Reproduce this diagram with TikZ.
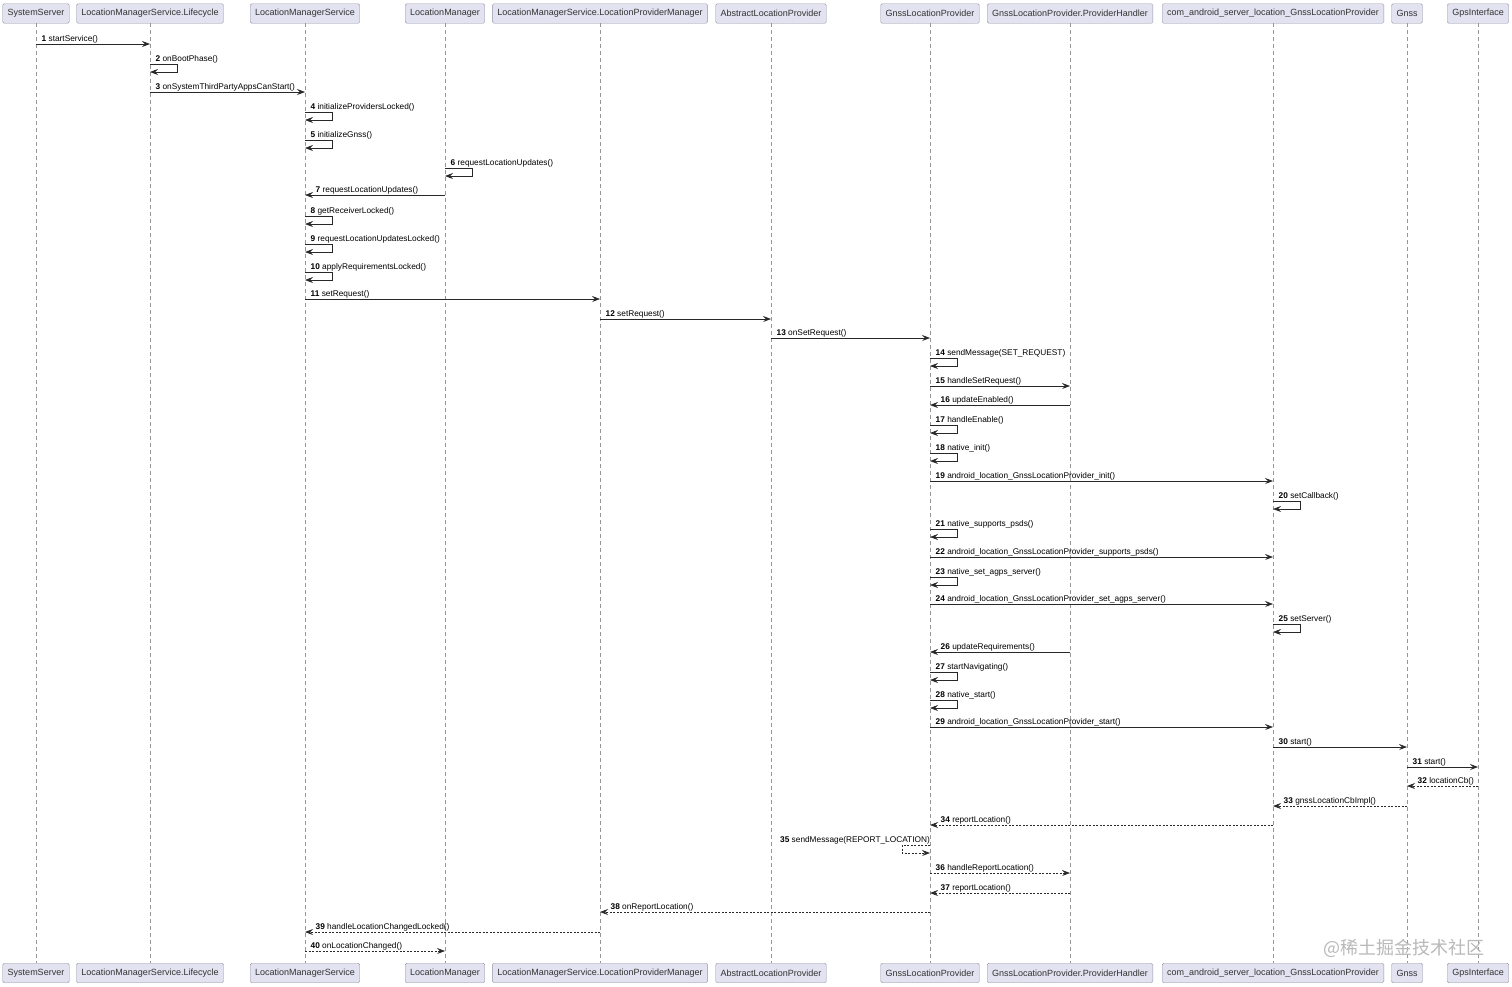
\documentclass[tikz,border=0pt]{standalone}
\usepackage{fontspec}
\setmainfont{Liberation Sans}
\newfontfamily\cjkfont{Noto Sans CJK SC}
\usetikzlibrary{arrows.meta,calc}
\definecolor{partfill}{RGB}{226,226,240}
\definecolor{partline}{RGB}{150,150,165}
\definecolor{lifegray}{RGB}{150,150,150}
\definecolor{msgdark}{RGB}{40,40,40}

\begin{document}
\begin{tikzpicture}[
  x=1pt, y=-1pt,
  every node/.style={font=\fontsize{8.3}{10}\selectfont},
  part/.style={draw=partline, fill=partfill, rounded corners=1.5pt, minimum height=19.5pt, inner xsep=5pt, text=black!80, font=\fontsize{9}{11}\selectfont},
  life/.style={draw=lifegray, dash pattern=on 4pt off 3pt, thin},
  call/.style={draw=msgdark, -{Stealth[length=8pt,width=6pt,inset=3pt]}, line width=0.7pt},
  ret/.style={call, dash pattern=on 2pt off 1.5pt},
  lbl/.style={anchor=base west, inner sep=0pt}
]
  \useasboundingbox (0,0) rectangle (1512,986);
  \fill[white] (0,0) rectangle (1512,986);

  % Participants and lifelines
  \foreach \n/\x/\t in {ss/36/SystemServer, lc/150/LocationManagerService.Lifecycle,
      lms/305/LocationManagerService, lm/445/LocationManager,
      lpm/600/LocationManagerService.LocationProviderManager, alp/771/AbstractLocationProvider,
      glp/930/GnssLocationProvider, ph/1070/GnssLocationProvider.ProviderHandler,
      jni/1273/com\_android\_server\_location\_GnssLocationProvider, gnss/1407/Gnss,
      gps/1478/GpsInterface} {
    \node[part] (\n) at (\x,13.5) {\t};
    \node[part] (\n-b) at (\x,973) {\t};
    \draw[life] (\n) -- (\n-b);
  }

  % Calls to the right
  \foreach \a/\b/\y/\k/\t in {ss/lc/44/1/startService(), lc/lms/92/3/onSystemThirdPartyAppsCanStart(),
      lms/lpm/299/11/setRequest(), lpm/alp/319/12/setRequest(), alp/glp/338/13/onSetRequest(),
      glp/ph/386/15/handleSetRequest(), glp/jni/481/19/android\_location\_GnssLocationProvider\_init(),
      glp/jni/557/22/android\_location\_GnssLocationProvider\_supports\_psds(),
      glp/jni/604/24/android\_location\_GnssLocationProvider\_set\_agps\_server(),
      glp/jni/727/29/android\_location\_GnssLocationProvider\_start(),
      jni/gnss/747/30/start(), gnss/gps/767/31/start()} {
    \draw[call] (\a |- 0,\y) -- (\b |- 0,\y);
    \path (\a |- 0,\y) ++(5.5,-2.5) node[lbl] (m\k) {\textbf{\k} \t};
  }

  % Calls to the left
  \foreach \a/\b/\y/\k/\t in {lm/lms/195/7/requestLocationUpdates(), ph/glp/405/16/updateEnabled(),
      ph/glp/652/26/updateRequirements()} {
    \draw[call] (\a |- 0,\y) -- (\b |- 0,\y);
    \path (\b |- 0,\y) ++(10.5,-2.5) node[lbl] (m\k) {\textbf{\k} \t};
  }

  % Self calls
  \foreach \a/\y/\k/\t in {lc/64/2/onBootPhase(), lms/112/4/initializeProvidersLocked(),
      lms/140/5/initializeGnss(), lm/168/6/requestLocationUpdates(), lms/216/8/getReceiverLocked(),
      lms/244/9/requestLocationUpdatesLocked(), lms/272/10/applyRequirementsLocked(),
      glp/358/14/sendMessage(SET\_REQUEST), glp/425/17/handleEnable(), glp/453/18/native\_init(),
      jni/501/20/setCallback(), glp/529/21/native\_supports\_psds(),
      glp/577/23/native\_set\_agps\_server(), jni/624/25/setServer(),
      glp/672/27/startNavigating(), glp/700/28/native\_start()} {
    \draw[call] (\a |- 0,\y) -- ++(27,0) -- ++(0,8) -- (\a |- 0,\y+8);
    \path (\a |- 0,\y) ++(5.5,-3) node[lbl] (m\k) {\textbf{\k} \t};
  }

  % Returns to the left
  \foreach \a/\b/\y/\k/\t in {gps/gnss/786/32/locationCb(), gnss/jni/806/33/gnssLocationCbImpl(),
      jni/glp/825/34/reportLocation(), ph/glp/893/37/reportLocation(),
      glp/lpm/912/38/onReportLocation(), lpm/lms/932/39/handleLocationChangedLocked()} {
    \draw[ret] (\a |- 0,\y) -- (\b |- 0,\y);
    \path (\b |- 0,\y) ++(10.5,-2.5) node[lbl] (m\k) {\textbf{\k} \t};
  }

  % Returns to the right
  \foreach \a/\b/\y/\k/\t in {glp/ph/873/36/handleReportLocation(), lms/lm/951/40/onLocationChanged()} {
    \draw[ret] (\a |- 0,\y) -- (\b |- 0,\y);
    \path (\a |- 0,\y) ++(5.5,-2.5) node[lbl] (m\k) {\textbf{\k} \t};
  }

  % Self return, drawn on the left side
  \draw[ret] (glp |- 0,845) -- ++(-28,0) -- ++(0,8) -- (glp |- 0,853);
  \path (glp |- 0,845) ++(0,-3) node[lbl, anchor=base east] (m35) {\textbf{35} sendMessage(REPORT\_LOCATION)};

  \node[text=gray!55, anchor=east, font=\cjkfont\fontsize{18}{22}\selectfont] (mark) at (1488,948) {@稀土掘金技术社区};
\end{tikzpicture}
\end{document}
